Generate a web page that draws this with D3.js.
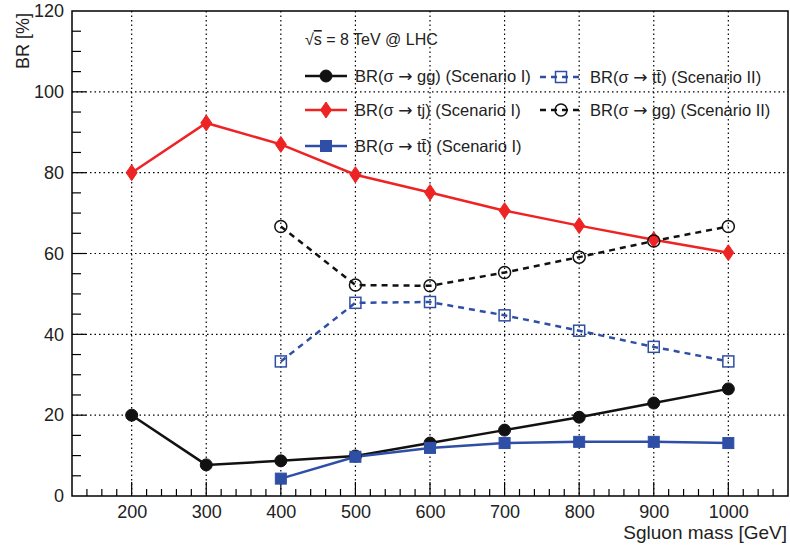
<!DOCTYPE html>
<html><head><meta charset="utf-8">
<script src="https://cdn.jsdelivr.net/npm/d3@7"></script>
<style>
body{margin:0;background:#fff;}
svg{display:block;font-family:"Liberation Sans",Arial,Helvetica,sans-serif;}
</style></head>
<body><svg id="c" width="790" height="545"></svg>
<script>
const massesI = [200,300,400,500,600,700,800,900,1000];
const massesTT = [400,500,600,700,800,900,1000];
const ggScenI = [20.0,7.7,8.7,9.9,13.1,16.3,19.5,23.0,26.5];
const tjScenI = [80.0,92.3,87.0,79.5,75.1,70.6,66.9,63.4,60.2];
const ttScenI = [4.3,9.7,11.9,13.1,13.4,13.4,13.1];
const ttScenII = [33.3,47.8,48.0,44.7,40.9,36.9,33.3];
const ggScenII = [66.7,52.2,52.0,55.3,59.1,63.1,66.7];
const xTicks = [200,300,400,500,600,700,800,900,1000];
const yTicks = [0,20,40,60,80,100,120];

const svg = d3.select('#c');
const L=72,R=788,T=11,B=496;
const x = d3.scaleLinear().domain([120,1080]).range([L,R]);
const y = d3.scaleLinear().domain([0,120]).range([B,T]);
const RED='#ee2424', BLUE='#2f4fa6', BLK='#111';

// grid
const g = svg.append('g');
g.selectAll('.gx').data(xTicks).enter().append('line')
 .attr('x1',d=>x(d)).attr('x2',d=>x(d)).attr('y1',T).attr('y2',B)
 .attr('stroke','#000').attr('stroke-width',1.2).attr('stroke-dasharray','1.5,3');
g.selectAll('.gy').data(yTicks.filter(v=>v>0&&v<120)).enter().append('line')
 .attr('y1',d=>y(d)).attr('y2',d=>y(d)).attr('x1',L).attr('x2',R)
 .attr('stroke','#000').attr('stroke-width',1.2).attr('stroke-dasharray','1.5,3');

// minor ticks
const xMinor = d3.range(140,1080,20);
svg.selectAll('.mx').data(xMinor).enter().append('line')
 .attr('x1',d=>x(d)).attr('x2',d=>x(d)).attr('y1',B).attr('y2',d=>d%100===0?B-14:B-7)
 .attr('stroke','#000').attr('stroke-width',1.2);
const yMinor = d3.range(5,120,5);
svg.selectAll('.my').data(yMinor).enter().append('line')
 .attr('y1',d=>y(d)).attr('y2',d=>y(d)).attr('x1',L).attr('x2',d=>d%20===0?L+14:L+9)
 .attr('stroke','#000').attr('stroke-width',1.2);

// frame
svg.append('rect').attr('x',L).attr('y',T).attr('width',R-L).attr('height',B-T)
 .attr('fill','none').attr('stroke','#000').attr('stroke-width',1.5);

// axes labels via d3 axes (no domain)
const xa = svg.append('g').attr('transform',`translate(0,${B})`)
 .call(d3.axisBottom(x).tickValues(xTicks).tickFormat(d3.format('d')).tickSize(0).tickPadding(9));
xa.select('.domain').remove();
xa.selectAll('text').attr('font-size',18).attr('font-family','Liberation Sans,Arial').attr('fill','#222');
const ya = svg.append('g').attr('transform',`translate(${L},0)`)
 .call(d3.axisLeft(y).tickValues(yTicks).tickFormat(d3.format('d')).tickSize(0).tickPadding(8));
ya.select('.domain').remove();
ya.selectAll('text').attr('font-size',18).attr('font-family','Liberation Sans,Arial').attr('fill','#222');

svg.append('text').attr('x',787).attr('y',539).attr('text-anchor','end')
 .attr('font-size',19).attr('fill','#222').text('Sgluon mass [GeV]');
svg.append('text').attr('transform','translate(29,13) rotate(-90)').attr('text-anchor','end')
 .attr('font-size',18).attr('fill','#222').text('BR [%]');

// series
const series = [
 {xs:massesI, ys:ggScenI, color:BLK, dash:null, marker:'circle', fill:true},
 {xs:massesI, ys:tjScenI, color:RED, dash:null, marker:'diamond', fill:true},
 {xs:massesTT, ys:ttScenI, color:BLUE, dash:null, marker:'square', fill:true},
 {xs:massesTT, ys:ttScenII, color:BLUE, dash:'6,5', marker:'square', fill:false},
 {xs:massesTT, ys:ggScenII, color:BLK, dash:'6,5', marker:'circle', fill:false},
];
const line = d3.line().x(d=>x(d[0])).y(d=>y(d[1]));
function drawMarker(sel, s, cx, cy){
  const fill = s.fill ? s.color : 'none';
  if(s.marker==='circle'){
    sel.append('circle').attr('cx',cx).attr('cy',cy).attr('r',6)
      .attr('fill',fill).attr('stroke',s.color).attr('stroke-width',s.fill?1:1.5);
  } else if(s.marker==='diamond'){
    sel.append('path').attr('d',`M${cx},${cy-8}L${cx+5.5},${cy}L${cx},${cy+8}L${cx-5.5},${cy}Z`)
      .attr('fill',fill).attr('stroke',s.color).attr('stroke-width',1);
  } else {
    const h = 5.5;
    sel.append('rect').attr('x',cx-h).attr('y',cy-h).attr('width',2*h).attr('height',2*h)
      .attr('fill',fill).attr('stroke',s.color).attr('stroke-width',s.fill?1:1.5);
  }
}
series.forEach(s=>{
  const pts = s.xs.map((m,i)=>[m,s.ys[i]]);
  svg.append('path').attr('d',line(pts)).attr('fill','none').attr('stroke',s.color)
    .attr('stroke-width',2.5).attr('stroke-dasharray',s.dash);
});
series.forEach(s=>{
  const gg = svg.append('g');
  s.xs.forEach((m,i)=>drawMarker(gg,s,x(m),y(s.ys[i])));
});

// legend
const legend = [
 {s:series[0], x:305, y:76, pre:'BR(σ ', post:' gg) (Scenario I)'},
 {s:series[1], x:305, y:110, pre:'BR(σ ', post:' tj) (Scenario I)'},
 {s:series[2], x:305, y:146, pre:'BR(σ ', post:' tt̄) (Scenario I)'},
 {s:series[3], x:540, y:77, pre:'BR(σ ', post:' tt̄) (Scenario II)'},
 {s:series[4], x:540, y:110, pre:'BR(σ ', post:' gg) (Scenario II)'},
];
legend.forEach(e=>{
  svg.append('line').attr('x1',e.x).attr('x2',e.x+42).attr('y1',e.y).attr('y2',e.y)
    .attr('stroke',e.s.color).attr('stroke-width',2.5).attr('stroke-dasharray',e.s.dash);
  drawMarker(svg.append('g'), e.s, e.x+21, e.y);
  const t = svg.append('text').attr('x',e.x+50).attr('y',e.y+6).attr('font-size',16.5)
    .attr('fill','#222');
  t.append('tspan').text(e.pre);
  t.append('tspan').attr('font-family','DejaVu Sans').attr('font-size',17).text('→');
  t.append('tspan').text(e.post);
});
const hdr = svg.append('text').attr('x',305).attr('y',45).attr('font-size',16).attr('fill','#222');
hdr.append('tspan').text('√');
hdr.append('tspan').attr('text-decoration','overline').text('s');
hdr.append('tspan').text(' = 8 TeV @ LHC');
</script></body></html>
